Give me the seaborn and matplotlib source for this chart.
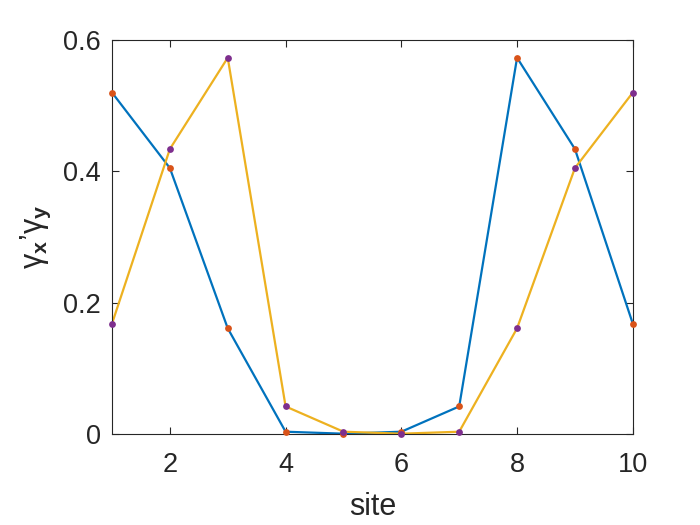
import numpy as np
import pandas as pd
import matplotlib
matplotlib.use("Agg")
import matplotlib.pyplot as plt
import seaborn as sns

# values
site = [1, 2, 3, 4, 5, 6, 7, 8, 9, 10]
gamma_x = [0.520, 0.405, 0.161, 0.0035, 0.0005, 0.0035, 0.042, 0.573, 0.434, 0.168]
gamma_y = [0.168, 0.434, 0.573, 0.042, 0.0035, 0.0005, 0.0035, 0.161, 0.405, 0.520]

df = pd.DataFrame({"site": site, "gx": gamma_x, "gy": gamma_y})

sns.set_theme(style="ticks")
plt.rcParams["font.family"] = ["Liberation Sans", "DejaVu Sans"]
plt.rcParams["mathtext.fontset"] = "custom"
plt.rcParams["mathtext.rm"] = "Liberation Sans"
plt.rcParams["mathtext.it"] = "Liberation Sans"
plt.rcParams["mathtext.bf"] = "Liberation Sans:bold"

fig = plt.figure(figsize=(7, 5.25), dpi=100)
ax = fig.add_axes([0.16, 0.1733, 0.744, 0.7505])

# lines first, dots on top
sns.lineplot(data=df, x="site", y="gx", color="#0072BD", lw=1.6, ax=ax)
sns.lineplot(data=df, x="site", y="gy", color="#EDB120", lw=1.6, ax=ax)
sns.scatterplot(data=df, x="site", y="gx", color="#D95319", s=24, linewidth=0,
                zorder=3, clip_on=False, ax=ax)
sns.scatterplot(data=df, x="site", y="gy", color="#7E2F8E", s=24, linewidth=0,
                zorder=4, clip_on=False, ax=ax)

ax.set_xlim(1, 10)
ax.set_ylim(0, 0.6)
ax.set_xticks([2, 4, 6, 8, 10])
ax.set_yticks([0, 0.2, 0.4, 0.6])
ax.set_yticklabels(["0", "0.2", "0.4", "0.6"])

ax.tick_params(direction="in", length=5, width=0.8, top=True, right=True,
               labelsize=19.5, colors="#262626")
ax.tick_params(axis="x", pad=13)
ax.tick_params(axis="y", pad=8)
for sp in ax.spines.values():
    sp.set_color("#262626")
    sp.set_linewidth(0.8)

ax.set_xlabel("site", fontsize=22, color="#262626", labelpad=10)
ax.set_ylabel(r"$\mathrm{\gamma}_{\mathbf{x}}$" + "\u2019" + r"$\mathrm{\gamma}_{\mathbf{y}}$",
              fontsize=22, color="#262626", labelpad=7)

fig.savefig("out.png", dpi=100)
